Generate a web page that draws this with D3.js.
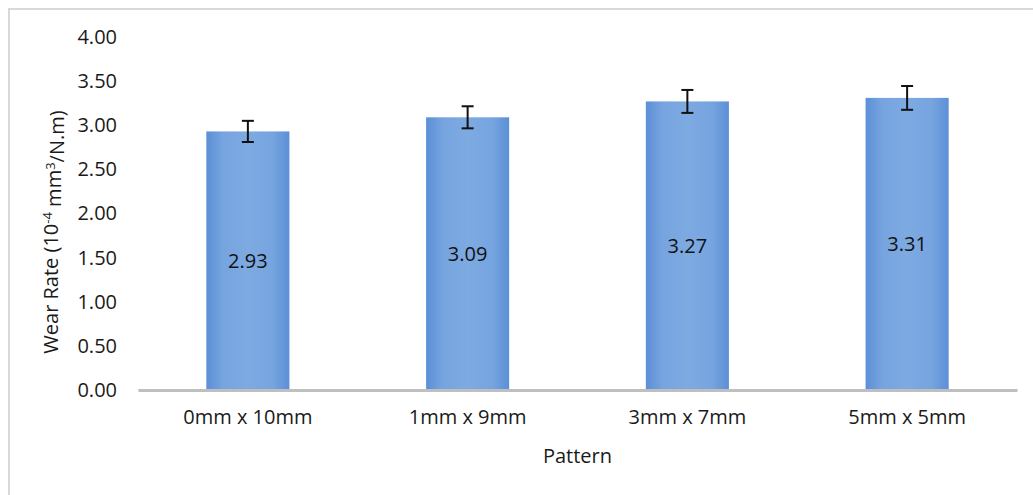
<!DOCTYPE html>
<html>
<head>
<meta charset="utf-8">
<script src="https://cdn.jsdelivr.net/npm/d3@7"></script>
<style>
  html, body { margin: 0; padding: 0; background: #fff; }
  svg { display: block; font-family: "Open Sans", "Noto Sans", sans-serif; }
</style>
</head>
<body>
<svg id="chart" width="1033" height="495"></svg>
<script>
const categories = ["0mm x 10mm", "1mm x 9mm", "3mm x 7mm", "5mm x 5mm"];
const wearRate = [2.93, 3.09, 3.27, 3.31];
const errors = [0.12, 0.125, 0.13, 0.135];
const yTicks = [0, 0.5, 1, 1.5, 2, 2.5, 3, 3.5, 4];

const svg = d3.select("#chart");
const W = 1033, H = 495;
const margin = { left: 138, right: 16, top: 37, bottom: 105 };
const plotW = W - margin.left - margin.right;
const plotH = H - margin.top - margin.bottom;

// outer frame (top and left visible)
svg.append("path")
  .attr("d", `M9,${H} L9,9 L${W},9`)
  .attr("fill", "none").attr("stroke", "#d9d9d9").attr("stroke-width", 2);

const defs = svg.append("defs");
const grad = defs.append("linearGradient").attr("id", "barGrad")
  .attr("x1", "0%").attr("x2", "100%").attr("y1", "0%").attr("y2", "0%");
grad.append("stop").attr("offset", "0%").attr("stop-color", "#5b8fd6");
grad.append("stop").attr("offset", "20%").attr("stop-color", "#76a4df");
grad.append("stop").attr("offset", "50%").attr("stop-color", "#7eaae2");
grad.append("stop").attr("offset", "80%").attr("stop-color", "#76a4df");
grad.append("stop").attr("offset", "100%").attr("stop-color", "#5b8fd6");

const g = svg.append("g").attr("transform", `translate(${margin.left},${margin.top})`);

const x = d3.scaleBand().domain(categories).range([0, plotW]).paddingInner(0.622).paddingOuter(0.311);
const y = d3.scaleLinear().domain([0, 4]).range([plotH, 0]);

// y axis labels
const yAxis = g.append("g").call(d3.axisLeft(y).tickValues(yTicks).tickFormat(d3.format(".2f")).tickSize(0).tickPadding(21));
yAxis.select(".domain").remove();
yAxis.selectAll("text").attr("font-size", 20).attr("fill", "#1a1a1a").attr("font-family", "'Open Sans', sans-serif");

// bars
g.selectAll("rect.bar").data(wearRate).join("rect")
  .attr("class", "bar")
  .attr("x", (d, i) => x(categories[i]))
  .attr("y", d => y(d))
  .attr("width", x.bandwidth())
  .attr("height", d => plotH - y(d))
  .attr("fill", "url(#barGrad)");

// x axis
const xAxis = g.append("g").attr("transform", `translate(0,${plotH})`)
  .call(d3.axisBottom(x).tickSize(0).tickPadding(20));
xAxis.select(".domain").attr("stroke", "#bfbfbf").attr("stroke-width", 3);
xAxis.selectAll("text").attr("font-size", 20).attr("fill", "#1a1a1a").attr("font-family", "'Open Sans', sans-serif");

// error bars
const cap = 6;
const eb = g.selectAll("g.err").data(wearRate).join("g").attr("class", "err")
  .attr("stroke", "#111").attr("stroke-width", 2);
eb.append("line")
  .attr("x1", (d, i) => x(categories[i]) + x.bandwidth() / 2)
  .attr("x2", (d, i) => x(categories[i]) + x.bandwidth() / 2)
  .attr("y1", (d, i) => y(d + errors[i]))
  .attr("y2", (d, i) => y(d - errors[i]));
eb.append("line")
  .attr("x1", (d, i) => x(categories[i]) + x.bandwidth() / 2 - cap)
  .attr("x2", (d, i) => x(categories[i]) + x.bandwidth() / 2 + cap)
  .attr("y1", (d, i) => y(d + errors[i]))
  .attr("y2", (d, i) => y(d + errors[i]));
eb.append("line")
  .attr("x1", (d, i) => x(categories[i]) + x.bandwidth() / 2 - cap)
  .attr("x2", (d, i) => x(categories[i]) + x.bandwidth() / 2 + cap)
  .attr("y1", (d, i) => y(d - errors[i]))
  .attr("y2", (d, i) => y(d - errors[i]));

// value labels
g.selectAll("text.val").data(wearRate).join("text")
  .attr("class", "val")
  .attr("x", (d, i) => x(categories[i]) + x.bandwidth() / 2)
  .attr("y", d => (y(d) + plotH) / 2)
  .attr("dy", "0.35em")
  .attr("text-anchor", "middle")
  .attr("font-size", 20).attr("fill", "#111")
  .text(d => d3.format(".2f")(d));

// axis titles
svg.append("text")
  .attr("x", margin.left + plotW / 2)
  .attr("y", 456).attr("dy", "0.35em")
  .attr("text-anchor", "middle").attr("font-size", 20).attr("fill", "#1a1a1a")
  .text("Pattern");

const yt = svg.append("text")
  .attr("transform", `translate(51,232) rotate(-90)`)
  .attr("text-anchor", "middle").attr("dy", "0.35em")
  .attr("font-size", 20).attr("fill", "#1a1a1a");
yt.append("tspan").text("Wear Rate (10");
yt.append("tspan").attr("dy", "-0.45em").attr("font-size", 13).text("-4");
yt.append("tspan").attr("dy", "0.45em").text(" mm");
yt.append("tspan").attr("dy", "-0.45em").attr("font-size", 13).text("3");
yt.append("tspan").attr("dy", "0.45em").text("/N.m)");
</script>
</body>
</html>
